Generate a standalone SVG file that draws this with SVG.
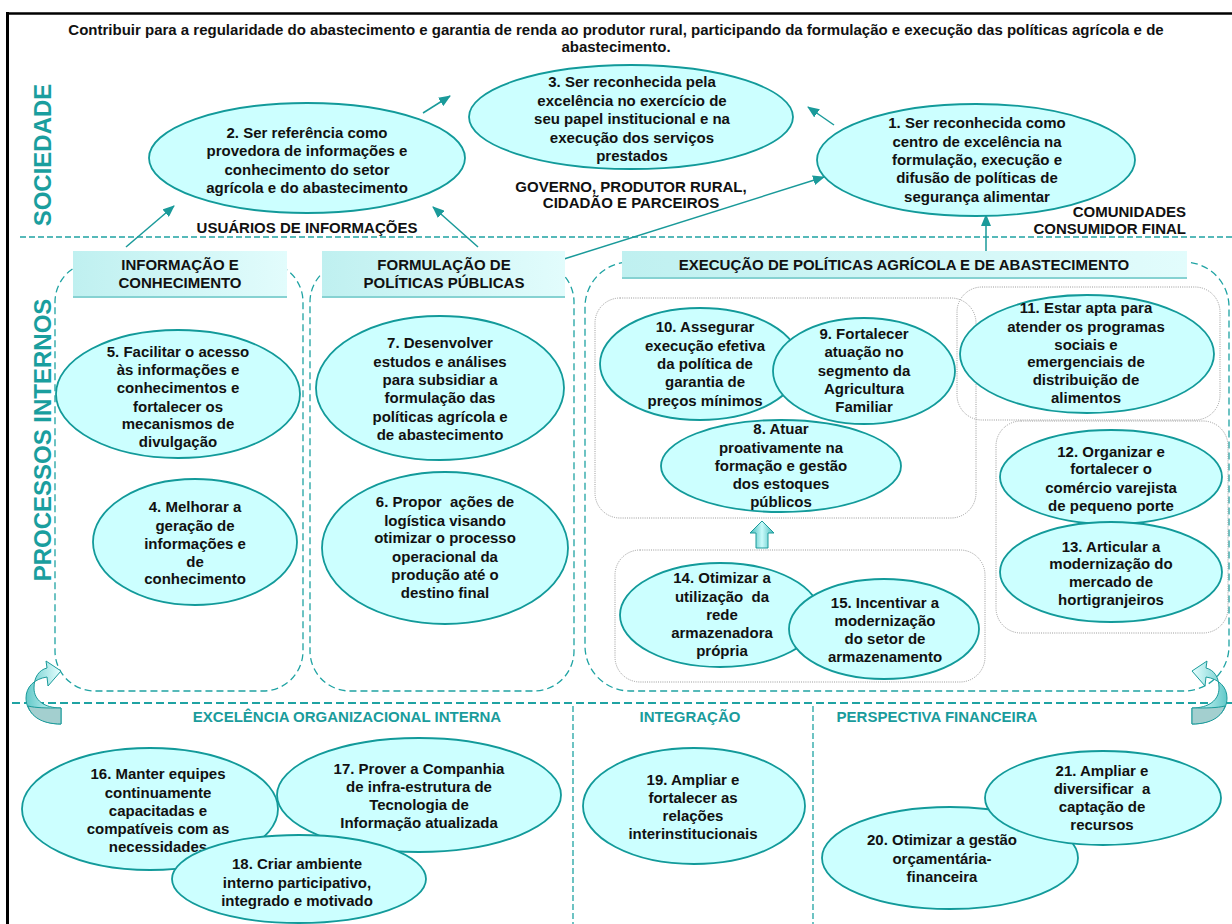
<svg xmlns="http://www.w3.org/2000/svg" width="1232" height="924" viewBox="0 0 1232 924">
  <defs>
    <style>
      .t { font-family: "Liberation Sans", Arial, sans-serif; font-weight: bold; font-size: 15px; fill: #111; text-anchor: middle; }
      .lab { font-family: "Liberation Sans", Arial, sans-serif; font-weight: bold; font-size: 15px; fill: #1a9c9c; text-anchor: middle; }
      .side { font-family: "Liberation Sans", Arial, sans-serif; font-weight: bold; font-size: 24px; fill: #1a9e9e; text-anchor: middle; }
      .el { fill: #ccffff; stroke: #129a9a; stroke-width: 1.8; }
      .hdr { fill: url(#hdrGrad); stroke: none; }
      .hdrEdge { stroke: #86d2d2; stroke-width: 2; fill: none; }
      .sep { fill: none; stroke: #1fa3a3; stroke-width: 1.3; stroke-dasharray: 6 3; }
      .sepBold { fill: none; stroke: #1fa3a3; stroke-width: 2.2; stroke-dasharray: 8 4; }
      .col { fill: none; stroke: #1fa3a3; stroke-width: 1.3; stroke-dasharray: 7 4; }
      .dot { fill: none; stroke: #9a9a9a; stroke-width: 1; stroke-dasharray: 1 1.2; }
      .conn { fill: none; stroke: #1a9a9a; stroke-width: 1.5; marker-end: url(#ah); }
      .frame { stroke: #000; fill: none; }
    </style>
    <linearGradient id="hdrGrad" x1="0" y1="0" x2="1" y2="0">
      <stop offset="0" stop-color="#bff0f0"/>
      <stop offset="1" stop-color="#e2fcfc"/>
    </linearGradient>
    <linearGradient id="bendGrad" x1="0" y1="0" x2="1" y2="0">
      <stop offset="0" stop-color="#62c9c9"/>
      <stop offset="1" stop-color="#e6ffff"/>
    </linearGradient>
    <linearGradient id="upGrad" x1="0" y1="0" x2="1" y2="0">
      <stop offset="0" stop-color="#3fb8b8"/>
      <stop offset="0.5" stop-color="#c9fbfb"/>
      <stop offset="1" stop-color="#3fb8b8"/>
    </linearGradient>
    <marker id="ah" viewBox="0 0 12 10" refX="11" refY="5" markerWidth="12" markerHeight="10" orient="auto" markerUnits="userSpaceOnUse">
      <path d="M0,0 L12,5 L0,10 Z" fill="#1a9a9a"/>
    </marker>
    <!-- curved block arrow used at the corners of the internal processes band -->
    <g id="bend">
      <path d="M61,708 L61,724 C40,724 26,713 26,698 C26,687 34,679 47,677 L48,686 L61,671 L46,661 L47,668 C39,670 34,677 34,688 C34,700 44,708 61,708 Z" fill="url(#bendGrad)" stroke="#1a9a9a" stroke-width="1"/>
      <path d="M61,708 L61,724 C41,724 31,716 28,706 C36,708 46,708 61,708 Z" fill="#a3cfcf" stroke="#1a9a9a" stroke-width="1"/>
    </g>
  </defs>

  <rect width="1232" height="924" fill="#fff"/>

  <!-- outer frame -->
  <line class="frame" x1="7.5" y1="12" x2="7.5" y2="924" stroke-width="3"/>
  <line class="frame" x1="6" y1="13.5" x2="1232" y2="13.5" stroke-width="2.5"/>

  <!-- mission statement -->
  <g id="mission">
    <text class="t" x="616" y="35">Contribuir para a regularidade do abastecimento e garantia de renda ao produtor rural, participando da formulação e execução das políticas agrícola e de</text>
    <text class="t" x="616" y="52">abastecimento.</text>
  </g>

  <!-- perspective labels -->
  <text class="side" transform="translate(51 155) rotate(-90)">SOCIEDADE</text>
  <text class="side" transform="translate(51 440) rotate(-90)">PROCESSOS INTERNOS</text>

  <!-- band separators -->
  <line class="sep" x1="20" y1="237" x2="1232" y2="237"/>
  <line class="sepBold" x1="12" y1="703" x2="1232" y2="703"/>
  <line class="sep" x1="573" y1="706" x2="573" y2="924"/>
  <line class="sep" x1="813" y1="706" x2="813" y2="924"/>

  <!-- stakeholder labels -->
  <g id="stakeholders">
    <text class="t" x="631" y="192">GOVERNO, PRODUTOR RURAL,</text>
    <text class="t" x="631" y="208">CIDADÃO E PARCEIROS</text>
    <text class="t" x="307" y="233">USUÁRIOS DE INFORMAÇÕES</text>
    <text class="t" x="1186" y="217" style="text-anchor:end">COMUNIDADES</text>
    <text class="t" x="1186" y="234" style="text-anchor:end">CONSUMIDOR FINAL</text>
  </g>

  <!-- process columns -->
  <g id="columns">
    <rect class="col" x="55" y="262" width="248" height="429" rx="40"/>
    <rect class="col" x="310" y="262" width="264" height="429" rx="40"/>
    <rect class="col" x="585" y="262" width="644" height="429" rx="45"/>
  </g>

  <!-- connectors -->
  <g id="connectors">
    <line class="conn" x1="423" y1="113" x2="450" y2="96"/>
    <line class="conn" x1="126" y1="247" x2="174" y2="206"/>
    <line class="conn" x1="478" y1="247" x2="433" y2="207"/>
    <line class="conn" x1="564" y1="259" x2="824" y2="177"/>
    <line class="conn" x1="834" y1="125" x2="808" y2="107"/>
    <line class="conn" x1="986" y1="252" x2="986" y2="215"/>
  </g>

  <!-- society objectives -->
  <g id="obj3">
    <ellipse class="el" cx="631" cy="117" rx="162" ry="52"/>
    <text class="t" x="632" y="87">3. Ser reconhecida pela</text>
    <text class="t" x="632" y="106">excelência no exercício de</text>
    <text class="t" x="632" y="124">seu papel institucional e na</text>
    <text class="t" x="632" y="143">execução dos serviços</text>
    <text class="t" x="632" y="161">prestados</text>
  </g>
  <g id="obj2">
    <ellipse class="el" cx="307" cy="158" rx="158" ry="55"/>
    <text class="t" x="307" y="138">2. Ser referência como</text>
    <text class="t" x="307" y="156">provedora de informações e</text>
    <text class="t" x="307" y="175">conhecimento do setor</text>
    <text class="t" x="307" y="193">agrícola e do abastecimento</text>
  </g>
  <g id="obj1">
    <ellipse class="el" cx="976" cy="160" rx="159" ry="56"/>
    <text class="t" x="977" y="128">1. Ser reconhecida como</text>
    <text class="t" x="977" y="147">centro de excelência na</text>
    <text class="t" x="977" y="165">formulação, execução e</text>
    <text class="t" x="977" y="183">difusão de políticas de</text>
    <text class="t" x="977" y="202">segurança alimentar</text>
  </g>

  <!-- column headers -->
  <g id="hdrInfo">
    <rect class="hdr" x="73" y="251" width="214" height="47"/>
    <line class="hdrEdge" x1="73" y1="297" x2="287" y2="297"/>
    <text class="t" x="180" y="270">INFORMAÇÃO E</text>
    <text class="t" x="180" y="288">CONHECIMENTO</text>
  </g>
  <g id="hdrForm">
    <rect class="hdr" x="322" y="251" width="243" height="47"/>
    <line class="hdrEdge" x1="322" y1="297" x2="565" y2="297"/>
    <text class="t" x="444" y="270">FORMULAÇÃO DE</text>
    <text class="t" x="444" y="288">POLÍTICAS PÚBLICAS</text>
  </g>
  <g id="hdrExec">
    <rect class="hdr" x="622" y="251" width="565" height="28"/>
    <line class="hdrEdge" x1="622" y1="278" x2="1187" y2="278"/>
    <text class="t" x="904" y="270">EXECUÇÃO DE POLÍTICAS AGRÍCOLA E DE ABASTECIMENTO</text>
  </g>

  <!-- information and knowledge -->
  <g id="obj5">
    <ellipse class="el" cx="178" cy="394" rx="122" ry="64"/>
    <text class="t" x="178" y="357">5. Facilitar o acesso</text>
    <text class="t" x="178" y="375">às informações e</text>
    <text class="t" x="178" y="393">conhecimentos e</text>
    <text class="t" x="178" y="412">fortalecer os</text>
    <text class="t" x="178" y="429">mecanismos de</text>
    <text class="t" x="178" y="447">divulgação</text>
  </g>
  <g id="obj4">
    <ellipse class="el" cx="195" cy="542" rx="102" ry="63"/>
    <text class="t" x="195" y="512">4. Melhorar a</text>
    <text class="t" x="195" y="531">geração de</text>
    <text class="t" x="195" y="549">informações e</text>
    <text class="t" x="195" y="567">de</text>
    <text class="t" x="195" y="584">conhecimento</text>
  </g>

  <!-- public policy formulation -->
  <g id="obj7">
    <ellipse class="el" cx="440" cy="388" rx="124" ry="72"/>
    <text class="t" x="440" y="348">7. Desenvolver</text>
    <text class="t" x="440" y="367">estudos e análises</text>
    <text class="t" x="440" y="385">para subsidiar a</text>
    <text class="t" x="440" y="403">formulação das</text>
    <text class="t" x="440" y="422">políticas agrícola e</text>
    <text class="t" x="440" y="440">de abastecimento</text>
  </g>
  <g id="obj6">
    <ellipse class="el" cx="445" cy="548" rx="123" ry="76"/>
    <text class="t" x="445" y="507">6. Propor&#160; ações de</text>
    <text class="t" x="445" y="526">logística visando</text>
    <text class="t" x="445" y="543">otimizar o processo</text>
    <text class="t" x="445" y="562">operacional da</text>
    <text class="t" x="445" y="580">produção até o</text>
    <text class="t" x="445" y="598">destino final</text>
  </g>

  <!-- policy execution -->
  <rect class="dot" x="595" y="298" width="381" height="220" rx="25"/>
  <g id="obj10">
    <ellipse class="el" cx="700" cy="364" rx="100" ry="56"/>
    <text class="t" x="705" y="332">10. Assegurar</text>
    <text class="t" x="705" y="351">execução efetiva</text>
    <text class="t" x="705" y="369">da política de</text>
    <text class="t" x="705" y="387">garantia de</text>
    <text class="t" x="705" y="406">preços mínimos</text>
  </g>
  <g id="obj9">
    <ellipse class="el" cx="864" cy="371" rx="91" ry="53"/>
    <text class="t" x="864" y="339">9. Fortalecer</text>
    <text class="t" x="864" y="357">atuação no</text>
    <text class="t" x="864" y="376">segmento da</text>
    <text class="t" x="864" y="394">Agricultura</text>
    <text class="t" x="864" y="412">Familiar</text>
  </g>
  <g id="obj8">
    <ellipse class="el" cx="781" cy="466" rx="120" ry="46"/>
    <text class="t" x="781" y="434">8. Atuar</text>
    <text class="t" x="781" y="453">proativamente na</text>
    <text class="t" x="781" y="471">formação e gestão</text>
    <text class="t" x="781" y="489">dos estoques</text>
    <text class="t" x="781" y="507">públicos</text>
  </g>

  <rect class="dot" x="957" y="287" width="263" height="133" rx="25"/>
  <g id="obj11">
    <ellipse class="el" cx="1087" cy="354" rx="127" ry="59"/>
    <text class="t" x="1086" y="313">11. Estar apta para</text>
    <text class="t" x="1086" y="332">atender os programas</text>
    <text class="t" x="1086" y="350">sociais e</text>
    <text class="t" x="1086" y="367">emergenciais de</text>
    <text class="t" x="1086" y="385">distribuição de</text>
    <text class="t" x="1086" y="403">alimentos</text>
  </g>

  <rect class="dot" x="996" y="421" width="232" height="212" rx="25"/>
  <g id="obj12">
    <ellipse class="el" cx="1111" cy="477" rx="111" ry="47"/>
    <text class="t" x="1111" y="457">12. Organizar e</text>
    <text class="t" x="1111" y="474">fortalecer o</text>
    <text class="t" x="1111" y="493">comércio varejista</text>
    <text class="t" x="1111" y="511">de pequeno porte</text>
  </g>
  <g id="obj13">
    <ellipse class="el" cx="1111" cy="572" rx="111" ry="50"/>
    <text class="t" x="1111" y="552">13. Articular a</text>
    <text class="t" x="1111" y="569">modernização do</text>
    <text class="t" x="1111" y="587">mercado de</text>
    <text class="t" x="1111" y="605">hortigranjeiros</text>
  </g>

  <!-- storage feeds stock management -->
  <path id="upArrow" d="M762,521 L774,533 L768,533 L768,548 L756,548 L756,533 L750,533 Z" fill="url(#upGrad)" stroke="#1a9a9a" stroke-width="1"/>

  <rect class="dot" x="615" y="550" width="370" height="132" rx="25"/>
  <g id="obj14">
    <ellipse class="el" cx="720" cy="615" rx="100" ry="52"/>
    <text class="t" x="722" y="583">14. Otimizar a</text>
    <text class="t" x="722" y="602">utilização&#160; da</text>
    <text class="t" x="722" y="620">rede</text>
    <text class="t" x="722" y="638">armazenadora</text>
    <text class="t" x="722" y="656">própria</text>
  </g>
  <g id="obj15">
    <ellipse class="el" cx="884" cy="629" rx="95" ry="50"/>
    <text class="t" x="885" y="608">15. Incentivar a</text>
    <text class="t" x="885" y="626">modernização</text>
    <text class="t" x="885" y="644">do setor de</text>
    <text class="t" x="885" y="662">armazenamento</text>
  </g>

  <!-- loop arrows between internal processes and learning band -->
  <use href="#bend"/>
  <use href="#bend" transform="translate(1253 0) scale(-1 1)"/>

  <!-- lower band labels -->
  <text class="lab" x="347" y="722">EXCELÊNCIA ORGANIZACIONAL INTERNA</text>
  <text class="lab" x="690" y="722">INTEGRAÇÃO</text>
  <text class="lab" x="937" y="722">PERSPECTIVA FINANCEIRA</text>

  <!-- internal excellence -->
  <g id="obj16">
    <ellipse class="el" cx="150" cy="809" rx="128" ry="61"/>
    <text class="t" x="158" y="779">16. Manter equipes</text>
    <text class="t" x="158" y="798">continuamente</text>
    <text class="t" x="158" y="816">capacitadas e</text>
    <text class="t" x="158" y="834">compatíveis com as</text>
    <text class="t" x="158" y="852">necessidades</text>
  </g>
  <g id="obj17">
    <ellipse class="el" cx="419" cy="795" rx="142" ry="57"/>
    <text class="t" x="419" y="774">17. Prover a Companhia</text>
    <text class="t" x="419" y="792">de infra-estrutura de</text>
    <text class="t" x="419" y="810">Tecnologia de</text>
    <text class="t" x="419" y="828">Informação atualizada</text>
  </g>
  <g id="obj18">
    <ellipse class="el" cx="299" cy="879" rx="127" ry="44"/>
    <text class="t" x="297" y="869">18. Criar ambiente</text>
    <text class="t" x="297" y="888">interno participativo,</text>
    <text class="t" x="297" y="906">integrado e motivado</text>
  </g>

  <!-- integration -->
  <g id="obj19">
    <ellipse class="el" cx="694" cy="806" rx="111" ry="58"/>
    <text class="t" x="693" y="785">19. Ampliar e</text>
    <text class="t" x="693" y="803">fortalecer as</text>
    <text class="t" x="693" y="821">relações</text>
    <text class="t" x="693" y="839">interinstitucionais</text>
  </g>

  <!-- financial -->
  <g id="obj20">
    <ellipse class="el" cx="950" cy="858" rx="128" ry="51"/>
    <text class="t" x="942" y="845">20. Otimizar a gestão</text>
    <text class="t" x="942" y="864">orçamentária-</text>
    <text class="t" x="942" y="882">financeira</text>
  </g>
  <g id="obj21">
    <ellipse class="el" cx="1103" cy="798" rx="118" ry="47"/>
    <text class="t" x="1102" y="776">21. Ampliar e</text>
    <text class="t" x="1102" y="794">diversificar&#160; a</text>
    <text class="t" x="1102" y="812">captação de</text>
    <text class="t" x="1102" y="830">recursos</text>
  </g>
</svg>
